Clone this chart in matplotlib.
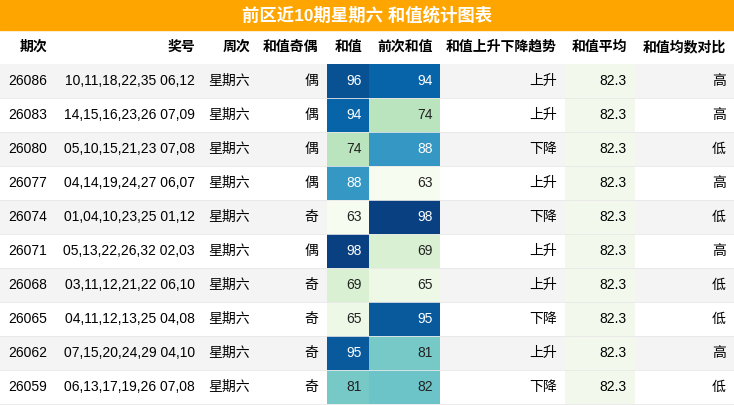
import matplotlib
matplotlib.use("Agg")
import matplotlib.pyplot as plt
from matplotlib.patches import Rectangle
from matplotlib import colors

plt.rcParams['font.family'] = ['Liberation Sans', 'Noto Sans CJK SC', 'DejaVu Sans']

title = "前区近10期星期六 和值统计图表"
headers = ["期次", "奖号", "周次", "和值奇偶", "和值", "前次和值", "和值上升下降趋势", "和值平均", "和值均数对比"]
periods = ["26086", "26083", "26080", "26077", "26074", "26071", "26068", "26065", "26062", "26059"]
numbers = ["10,11,18,22,35 06,12", "14,15,16,23,26 07,09", "05,10,15,21,23 07,08", "04,14,19,24,27 06,07",
           "01,04,10,23,25 01,12", "05,13,22,26,32 02,03", "03,11,12,21,22 06,10", "04,11,12,13,25 04,08",
           "07,15,20,24,29 04,10", "06,13,17,19,26 07,08"]
weekday = ["星期六"] * 10
parity = ["偶", "偶", "偶", "偶", "奇", "偶", "奇", "奇", "奇", "奇"]
sums = [96, 94, 74, 88, 63, 98, 69, 65, 95, 81]
prev_sums = [94, 74, 88, 63, 98, 69, 65, 95, 81, 82]
trend = ["上升", "上升", "下降", "上升", "下降", "上升", "上升", "下降", "上升", "下降"]
avg = [82.3] * 10
compare = ["高", "高", "低", "高", "低", "高", "低", "低", "高", "低"]

W, H = 734, 405
fig = plt.figure(figsize=(W / 100, H / 100), dpi=100)
ax = fig.add_axes([0, 0, 1, 1])
ax.set_xlim(0, W); ax.set_ylim(H, 0); ax.axis('off')

ax.add_patch(Rectangle((0, 0), W, 30, color='#FFA500'))
ax.text(W / 2, 15, title, ha='center', va='center', color='white', fontsize=12.5, fontweight='bold')

edges = [0, 55, 200, 255, 327, 369, 440, 565, 635, W]
text_x = [8, 195, 250, 318, 362, 433, 557, 627, 726]
hy0, hy1 = 30, 64
for i, h in enumerate(headers):
    ha = 'left' if i == 0 else 'right'
    x = 20 if i == 0 else text_x[i]
    ax.text(x, 47, h, ha=ha, va='center', fontsize=10, fontweight='bold')

cmap = matplotlib.colormaps['GnBu']
norm = colors.Normalize(vmin=min(sums + prev_sums), vmax=max(sums + prev_sums))
rh = 34
for r in range(10):
    y0 = hy1 + r * rh
    if r % 2 == 0:
        ax.add_patch(Rectangle((0, y0), W, rh, color='#f4f4f4', lw=0))
    ax.plot([0, W], [y0 + rh, y0 + rh], color='#e8e8e8', lw=0.6)
    ax.add_patch(Rectangle((edges[7], y0), edges[8] - edges[7], rh, color='#f2f9ec', lw=0))
    for c, v in ((4, sums[r]), (5, prev_sums[r])):
        col = cmap(norm(v))
        ax.add_patch(Rectangle((edges[c], y0), edges[c + 1] - edges[c], rh, color=col, lw=0))
    row = [periods[r], numbers[r], weekday[r], parity[r], str(sums[r]), str(prev_sums[r]),
           trend[r], f"{avg[r]:.1f}", compare[r]]
    for i, t in enumerate(row):
        color = 'black'
        if i in (4, 5):
            v = sums[r] if i == 4 else prev_sums[r]
            color = 'white' if norm(v) > 0.6 else '#222222'
        ha = 'left' if i == 0 else 'right'
        ax.text(text_x[i], y0 + rh / 2, t, ha=ha, va='center', fontsize=10, color=color)

fig.savefig("out.png", dpi=100)
